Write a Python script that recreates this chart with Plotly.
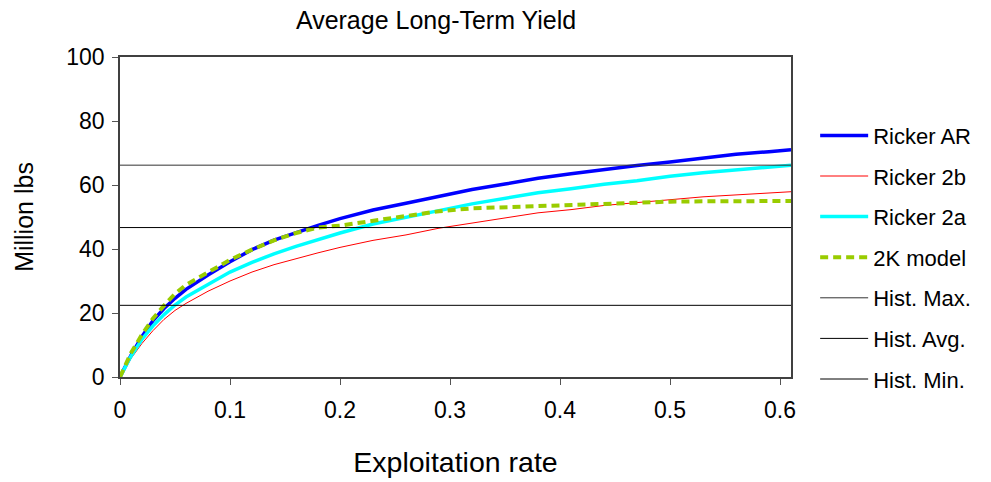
import plotly.graph_objects as go

# Exploitation rate
x = [0, 0.01, 0.02, 0.03, 0.04, 0.05, 0.06, 0.07, 0.08, 0.10, 0.12, 0.14, 0.16, 0.18,
     0.20, 0.23, 0.26, 0.29, 0.32, 0.35, 0.38, 0.41, 0.44, 0.47, 0.50, 0.53, 0.56, 0.59, 0.61]

ricker_ar = [0, 6.8, 12.7, 17.6, 21.4, 24.6, 27.4, 29.8, 31.9, 36.0, 39.8, 42.8, 45.2, 47.4,
             49.5, 52.2, 54.3, 56.5, 58.6, 60.3, 62.1, 63.5, 64.9, 66.1, 67.2, 68.5, 69.6, 70.4, 71.0]
ricker_2b = [0, 5.8, 10.5, 14.5, 18.0, 20.8, 23.0, 25.0, 26.8, 30.0, 32.8, 35.1, 37.0, 38.8,
             40.5, 42.7, 44.4, 46.5, 48.1, 49.8, 51.3, 52.3, 53.6, 54.5, 55.5, 56.3, 56.9, 57.5, 57.9]
ricker_2a = [0, 6.5, 11.8, 16.0, 19.5, 22.5, 25.0, 27.0, 29.0, 32.8, 35.8, 38.5, 40.8, 43.0,
             45.0, 47.8, 50.0, 52.0, 54.1, 55.9, 57.6, 58.8, 60.2, 61.3, 62.7, 63.8, 64.8, 65.6, 66.2]
model_2k = [0, 7.5, 13.3, 18.3, 22.3, 26.0, 28.8, 30.8, 32.8, 36.6, 39.8, 42.7, 45.0, 46.7,
            47.3, 48.7, 50.2, 51.8, 52.7, 53.1, 53.5, 53.9, 54.3, 54.6, 54.8, 54.9, 55.0, 55.0, 55.0]

hist_max = 66.2
hist_avg = 46.7
hist_min = 22.4
x_span = [0, 0.61]

FONT = "Liberation Sans, Arial, sans-serif"

fig = go.Figure()

series = [
    ("Ricker AR", ricker_ar, dict(color="#0000FF", width=3.5)),
    ("Ricker 2b", ricker_2b, dict(color="#FF0000", width=1)),
    ("Ricker 2a", ricker_2a, dict(color="#00FFFF", width=3.5)),
    ("2K model", model_2k, dict(color="#99CC00", width=4, dash="8px,5px")),
]
for i, (name, ys, line) in enumerate(series):
    fig.add_trace(go.Scatter(x=x, y=ys, mode="lines", name=name, line=line,
                             legendgroup=f"g{i}"))

hist = [("Hist. Max.", hist_max, "#333333"),
        ("Hist. Avg.", hist_avg, "#000000"),
        ("Hist. Min.", hist_min, "#000000")]
for j, (name, v, c) in enumerate(hist):
    fig.add_trace(go.Scatter(x=x_span, y=[v, v], mode="lines", name=name,
                             line=dict(color=c, width=1), legendgroup=f"h{j}"))

fig.update_layout(
    width=991, height=482,
    margin=dict(l=120, r=200, t=57, b=105),
    paper_bgcolor="white", plot_bgcolor="white",
    font=dict(family=FONT, color="black", size=22),
    title=dict(text="Average Long-Term Yield", x=0.44, xanchor="center",
               y=1 - 20 / 482, yanchor="middle", yref="container",
               font=dict(size=25, family=FONT, color="black")),
    showlegend=True,
    legend=dict(x=1.036, xanchor="left", y=0.82, yanchor="top",
                font=dict(size=22, family=FONT, color="black"),
                tracegroupgap=9, itemwidth=48, bgcolor="rgba(0,0,0,0)"),
)
fig.update_xaxes(range=[0, 0.61], dtick=0.1, tick0=0, showgrid=False, zeroline=False,
                 showline=True, linecolor="#404040", linewidth=1.5, mirror=True,
                 ticks="outside", ticklen=6, tickcolor="#555555", ticklabelstandoff=6,
                 automargin=False,
                 tickfont=dict(size=23, family=FONT),
                 title=dict(text="Exploitation rate", font=dict(size=28.5, family=FONT), standoff=30))
fig.update_yaxes(range=[0, 100], dtick=20, tick0=0, showgrid=False, zeroline=False,
                 showline=True, linecolor="#404040", linewidth=1.5, mirror=True,
                 ticks="outside", ticklen=6, tickcolor="#555555", ticklabelstandoff=3,
                 automargin=False,
                 tickfont=dict(size=23, family=FONT),
                 title=dict(text="Million lbs", font=dict(size=25, family=FONT), standoff=26))

fig.write_html("out.html")
